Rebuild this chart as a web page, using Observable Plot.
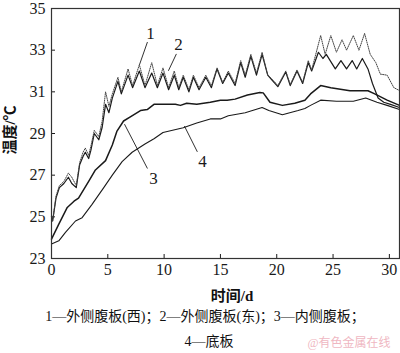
<!DOCTYPE html>
<html><head><meta charset="utf-8">
<script src="https://cdn.jsdelivr.net/npm/d3@7"></script>
<script src="https://cdn.jsdelivr.net/npm/@observablehq/plot@0.6"></script>
<style>
body{margin:0;background:#fff;}
#wrap{position:relative;width:400px;height:353px;overflow:hidden;background:#fff;font-family:"Liberation Serif","Noto Sans CJK SC",serif;color:#111;}
.t{position:absolute;white-space:nowrap;}
</style></head><body>
<div id="wrap"></div>
<script>
// ---- data ----
const xTicks = [0, 5, 10, 15, 20, 25, 30];
const yTicks = [23, 25, 27, 29, 31, 33, 35];

const days1 = [0,0.1,0.4,0.7,1.1,1.5,1.8,2.2,2.5,2.8,3.0,3.3,3.5,3.8,4.2,4.5,4.8,5.1,5.4,5.9,6.2,6.8,7.2,7.8,8.3,8.9,9.4,9.9,10.4,10.9,11.3,11.7,12.2,12.6,13.1,13.7,14.2,14.7,15.2,15.7,16.3,16.8,17.2,17.7,18.2,18.7,19.2,19.6,20.1,20.8,21.2,21.8,22.3,22.8,23.1,23.9,24.3,24.8,25.3,25.8,26.2,26.8,27.3,27.8,28.3,28.8,29.2,29.8,30.4,30.9];
const temp1 = [25.0,24.8,26.0,26.5,26.7,27.1,26.9,26.5,27.6,28.1,28.3,27.95,28.4,29.15,28.85,29.6,31.0,30.3,30.9,31.7,31.0,32.1,31.3,32.3,31.3,32.4,31.3,32.15,31.2,32.0,31.2,31.8,31.1,31.8,31.2,31.8,31.3,32.15,31.45,32.0,31.4,32.5,31.8,32.8,31.9,32.9,31.8,31.6,31.3,32.0,31.35,32.05,31.45,32.5,32.05,33.7,32.8,33.7,32.9,33.5,33.0,33.7,33.0,33.8,32.8,32.4,31.85,31.8,31.2,31.06];

const days2 = [0,0.1,0.4,0.7,1.1,1.5,1.8,2.2,2.5,2.8,3.0,3.3,3.5,3.8,4.2,4.5,4.8,5.1,5.4,5.9,6.2,6.8,7.2,7.8,8.3,8.9,9.4,9.9,10.4,10.9,11.3,11.7,12.2,12.6,13.1,13.7,14.2,14.7,15.2,15.7,16.3,16.8,17.2,17.7,18.2,18.7,19.2,19.6,20.1,20.8,21.2,21.8,22.3,22.8,23.1,23.7,24.1,24.4,25.2,25.7,26.2,26.7,27.1,27.6,28.1,28.5,29.0,29.5,30.1,30.9];
const temp2 = [25.0,24.8,25.9,26.4,26.6,26.9,26.6,26.4,27.5,27.9,28.1,27.8,28.2,29.0,28.7,29.3,30.4,30.0,30.7,31.5,30.9,31.8,31.2,32.0,31.2,31.9,31.2,31.9,31.1,31.8,31.1,31.7,31.0,31.7,31.1,31.7,31.2,32.1,31.4,31.9,31.3,32.4,31.7,32.7,31.8,32.8,31.8,31.55,31.25,31.95,31.3,32.0,31.4,32.4,32.0,32.9,32.6,32.8,32.1,32.5,32.1,32.5,32.1,32.6,32.1,31.4,30.7,30.5,30.4,30.25];

const days3 = [0,0.65,1.4,2.0,2.4,3.3,3.9,4.8,5.4,5.8,6.4,7.0,7.9,8.5,9.1,10.0,11.0,11.45,12.0,12.9,14.1,15.0,15.6,16.3,17.4,18.5,18.8,19.4,20.5,21.6,22.5,23.0,23.9,24.8,26.5,28.1,28.7,29.8,30.9];
const temp3 = [23.93,24.65,25.45,25.75,25.9,26.7,27.25,27.7,28.45,29.1,29.6,29.8,30.1,30.15,30.4,30.4,30.4,30.35,30.45,30.4,30.5,30.6,30.6,30.65,30.85,30.97,30.95,30.5,30.35,30.45,30.6,30.9,31.3,31.2,31.05,31.05,30.9,30.6,30.35];

const days4 = [0,0.65,1.24,2.13,2.72,3.6,4.64,5.4,6.27,7.16,8.3,9.1,9.9,11.7,12.9,14.1,15.0,15.7,17.2,18.7,19.3,20.5,21.9,22.5,23.0,23.9,25.3,26.8,27.9,28.9,29.8,30.9];
const temp4 = [23.7,23.85,24.25,24.8,24.96,25.6,26.4,27.0,27.65,28.1,28.5,28.75,29.05,29.28,29.5,29.7,29.7,29.85,30.0,30.25,30.1,29.9,30.1,30.2,30.35,30.6,30.55,30.55,30.7,30.5,30.35,30.15];

const seriesNames = ["1", "2", "3", "4"];
const labelText = ["1", "2", "3", "4"];
const labelX = [8.78, 11.27, 9.05, 13.4];
const labelY = [33.82, 33.25, 26.84, 27.65];
const leaderX1 = [8.52, 11.09, 8.52, 12.95];
const leaderY1 = [33.39, 32.82, 27.32, 28.12];
const leaderX2 = [7.81, 10.38, 6.48, 11.8];
const leaderY2 = [32.3, 32.01, 29.45, 29.36];

const xLabel = "时间/d";
const yLabel = "温度/℃";
const caption1 = "1—外侧腹板(西)；2—外侧腹板(东)；3—内侧腹板；";
const caption2 = "4—底板";
const watermark = "@有色金属在线";

// ---- build tables ----
const toRows = (xs, ys, s) => xs.map((d, i) => ({day: d, temp: ys[i], s}));
const rows1 = toRows(days1, temp1, seriesNames[0]);
const rows2 = toRows(days2, temp2, seriesNames[1]);
const rows3 = toRows(days3, temp3, seriesNames[2]);
const rows4 = toRows(days4, temp4, seriesNames[3]);
const labels = labelText.map((t, i) => ({t, x: labelX[i], y: labelY[i], x1: leaderX1[i], y1: leaderY1[i], x2: leaderX2[i], y2: leaderY2[i]}));

const ink = "#1a1a1a";
const chart = Plot.plot({
  width: 400, height: 305,
  marginTop: 8, marginLeft: 51, marginRight: 1, marginBottom: 47,
  x: {domain: [0, 30.9]},
  y: {domain: [23, 35]},
  style: {fontFamily: '"Liberation Serif", serif', fontSize: "16px", color: ink, background: "white", overflow: "visible"},
  marks: [
    Plot.axisX({ticks: xTicks, tickSize: -4, tickPadding: 9, label: null, tickFormat: d => String(d), fontSize: 16}),
    Plot.axisY({ticks: yTicks, tickSize: -4, tickPadding: 10, label: null, tickFormat: d => String(d), fontSize: 16}),
    Plot.line(rows4, {x: "day", y: "temp", stroke: ink, strokeWidth: 1.1}),
    Plot.line(rows3, {x: "day", y: "temp", stroke: ink, strokeWidth: 1.5}),
    Plot.line(rows2, {x: "day", y: "temp", stroke: ink, strokeWidth: 1.2}),
    Plot.line(rows1, {x: "day", y: "temp", stroke: "#444", strokeWidth: 1.0, strokeDasharray: "1,1.2"}),
    Plot.link(labels, {x1: "x1", y1: "y1", x2: "x2", y2: "y2", stroke: ink, strokeWidth: 0.9}),
    Plot.text(labels, {x: "x", y: "y", text: "t", fontSize: 17, fill: ink}),
    Plot.frame({stroke: "#333", strokeWidth: 1.2})
  ]
});

const wrap = document.getElementById("wrap");
wrap.appendChild(chart);
chart.style.position = "absolute"; chart.style.left = "0px"; chart.style.top = "0px";

function addText(txt, cx, cy, size, opts = {}) {
  const d = document.createElement("div");
  d.className = "t";
  d.textContent = txt;
  d.style.fontSize = size + "px";
  d.style.lineHeight = size + "px";
  d.style.fontWeight = opts.bold ? "bold" : "normal";
  if (opts.color) d.style.color = opts.color;
  if (opts.family) d.style.fontFamily = opts.family;
  d.style.left = cx + "px";
  d.style.top = cy + "px";
  d.style.transform = "translate(-50%,-50%)" + (opts.rotate ? " rotate(-90deg)" : "");
  wrap.appendChild(d);
  return d;
}
addText(yLabel, 10, 130, 15, {bold: true, rotate: true});
addText(xLabel, 232, 296, 15, {bold: true});
addText(caption1, 205, 317, 14);
addText(caption2, 209, 342, 14);
addText(watermark, 349, 343, 12, {color: "#efb7c2"});
</script>
</body></html>
